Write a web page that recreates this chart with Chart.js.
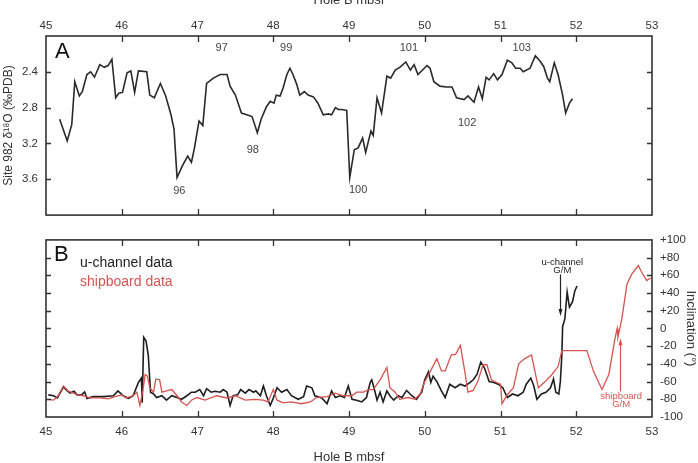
<!doctype html>
<html>
  <head>
    <meta charset="utf-8">
    <title>Site 982 isotope stratigraphy and inclination</title>
    <style>
      html, body {
        margin: 0;
        background: #fff;
      }
      #wrap { position: relative; width: 698px; height: 463px; }
      #wrap canvas { position: absolute; left: 0; }
      #chartA { top: 0; }
      #chartB { top: 225px; }
    </style>
  </head>
  <body>
    <div id="wrap">
      <canvas id="chartA" width="698" height="230"></canvas>
      <canvas id="chartB" width="698" height="238"></canvas>
    </div>

    <script src="https://cdn.jsdelivr.net/npm/chart.js@4/dist/chart.umd.min.js"></script>
    <script>
      // panel A: d18O vs depth
      var isoDepth = [45.18, 45.28, 45.34, 45.38, 45.44, 45.48, 45.54, 45.59, 45.64, 45.71, 45.77, 45.82, 45.87, 45.92, 45.96,
        46.01, 46.07, 46.12, 46.17, 46.22, 46.33, 46.37, 46.43, 46.51, 46.58, 46.65, 46.69, 46.73, 46.80, 46.87, 46.92, 46.96,
        47.02, 47.07, 47.12, 47.21, 47.30, 47.39, 47.43, 47.50, 47.58, 47.65, 47.72, 47.79, 47.84, 47.91, 47.96,
        48.01, 48.04, 48.09, 48.13, 48.18, 48.22, 48.26, 48.31, 48.35, 48.41, 48.46, 48.53, 48.59, 48.66, 48.73, 48.77, 48.82, 48.86, 48.90, 48.97,
        49.01, 49.07, 49.12, 49.18, 49.22, 49.29, 49.32, 49.37, 49.43, 49.50, 49.55, 49.61, 49.67, 49.75, 49.81, 49.86, 49.91,
        50.03, 50.07, 50.12, 50.20, 50.29, 50.36, 50.42, 50.52, 50.57, 50.65, 50.71, 50.76, 50.81, 50.85, 50.91, 50.96,
        51.02, 51.09, 51.15, 51.20, 51.26, 51.30, 51.39, 51.46, 51.52, 51.57, 51.62, 51.65, 51.71, 51.76, 51.82, 51.86, 51.91, 51.95]
      var isoValue = [2.93, 3.17, 2.99, 2.51, 2.67, 2.62, 2.43, 2.40, 2.46, 2.32, 2.35, 2.33, 2.26, 2.69, 2.64,
        2.63, 2.41, 2.39, 2.63, 2.39, 2.40, 2.66, 2.69, 2.53, 2.67, 2.88, 3.04, 3.58, 3.45, 3.34, 3.41, 3.25,
        2.95, 3.00, 2.53, 2.47, 2.43, 2.43, 2.56, 2.66, 2.86, 2.88, 2.90, 3.08, 2.93, 2.79, 2.73,
        2.75, 2.66, 2.67, 2.58, 2.43, 2.36, 2.43, 2.54, 2.66, 2.62, 2.66, 2.68, 2.75, 2.88, 2.87, 2.88, 2.80, 2.82, 2.82, 2.83,
        3.58, 3.27, 3.25, 3.14, 3.30, 3.06, 3.11, 2.69, 2.86, 2.45, 2.47, 2.38, 2.35, 2.29, 2.38, 2.32, 2.43,
        2.33, 2.36, 2.51, 2.56, 2.57, 2.57, 2.69, 2.71, 2.67, 2.74, 2.57, 2.70, 2.46, 2.49, 2.42, 2.49,
        2.43, 2.27, 2.30, 2.36, 2.36, 2.40, 2.36, 2.22, 2.28, 2.34, 2.47, 2.51, 2.30, 2.43, 2.66, 2.86, 2.75, 2.70]
      var isoTicks = [2.4, 2.8, 3.2, 3.6]

      // isotope stage labels
      var stageNames = ['96', '97', '98', '99', '100', '101', '102', '103']
      var stageDepth = [46.76, 47.32, 47.73, 48.17, 49.12, 49.79, 50.56, 51.28]
      var stageValue = [3.73, 2.13, 3.27, 2.13, 3.72, 2.13, 2.97, 2.13]

      // panel B: inclination vs depth
      var uDepth = [45.03, 45.10, 45.15, 45.23, 45.28, 45.32, 45.37, 45.41, 45.47, 45.51, 45.54, 45.62, 45.76, 45.89, 45.95,
        46.02, 46.09, 46.15, 46.22, 46.26, 46.27, 46.29, 46.32, 46.35, 46.38, 46.42, 46.46, 46.53, 46.59, 46.66, 46.73, 46.79, 46.86, 46.92, 46.97,
        47.03, 47.08, 47.12, 47.18, 47.23, 47.30, 47.34, 47.39, 47.43, 47.47, 47.53, 47.57, 47.63, 47.68, 47.74, 47.77, 47.83, 47.87, 47.91, 47.96, 47.99,
        48.05, 48.11, 48.18, 48.24, 48.33, 48.40, 48.44, 48.51, 48.55, 48.64, 48.71, 48.77, 48.82, 48.88, 48.94, 48.99,
        49.04, 49.10, 49.17, 49.23, 49.28, 49.30, 49.33, 49.37, 49.41, 49.45, 49.50, 49.54, 49.59, 49.65, 49.70, 49.76, 49.83, 49.89, 49.96,
        50.00, 50.05, 50.08, 50.11, 50.16, 50.22, 50.27, 50.33, 50.40, 50.47, 50.53, 50.60, 50.64, 50.69, 50.74, 50.79, 50.85, 50.91, 50.97,
        51.03, 51.09, 51.16, 51.23, 51.30, 51.34, 51.40, 51.44, 51.48, 51.54, 51.60, 51.66, 51.70, 51.73, 51.77, 51.79, 51.81, 51.82,
        51.85, 51.88, 51.91, 51.95, 51.98, 52.01]
      var uInc = [-75, -76, -78.5, -66, -70.5, -73, -71, -75, -75, -71.6, -79, -77, -77, -76, -70.5,
        -76, -79, -76, -61, -56, -84, -10, -14, -30, -72, -74, -78, -76, -81, -76, -78, -80, -76, -72, -72,
        -69, -76, -68, -72, -71, -72, -69, -72, -87, -76, -75, -69, -73, -69, -72, -70.5, -76, -65, -76, -87, -81,
        -67, -72, -69, -76, -80, -77, -65, -67, -76, -78.5, -85, -70.5, -78, -76, -78, -65,
        -80, -81, -83, -78, -61, -58, -67, -81, -72, -83, -70.5, -76, -81, -76, -78, -70, -76, -80, -72,
        -58, -49, -61, -54, -60, -70.5, -78, -63, -67, -63, -65, -61, -58, -52, -38, -45, -60, -61, -63,
        -67, -78, -74, -76, -72, -63, -56, -65, -80, -74, -72, -67, -57, -72, -74, -60, -30, 2,
        11, 41, 24, 30, 42, 48]

      var shipDepth = [45.03, 45.10, 45.16, 45.23, 45.29, 45.36, 45.43, 45.49, 45.58, 45.71, 45.82, 45.91,
        46.00, 46.06, 46.15, 46.20, 46.24, 46.28, 46.31, 46.34, 46.37, 46.42, 46.45, 46.50, 46.53, 46.59, 46.66, 46.73, 46.79, 46.86, 46.92, 46.99,
        47.10, 47.25, 47.39, 47.50, 47.63, 47.76, 47.87, 47.93, 48.00, 48.05, 48.13, 48.24, 48.37, 48.49, 48.57, 48.71, 48.82, 48.93,
        49.04, 49.10, 49.19, 49.26, 49.32, 49.41, 49.50, 49.54, 49.61, 49.67, 49.78, 49.87, 49.94,
        50.00, 50.07, 50.16, 50.22, 50.27, 50.35, 50.41, 50.47, 50.53, 50.57, 50.64, 50.70, 50.77, 50.82, 50.88, 50.95, 51.00,
        51.02, 51.08, 51.17, 51.24, 51.32, 51.41, 51.50, 51.59, 51.68, 51.76, 51.81, 52.14, 52.23, 52.34, 52.43,
        52.51, 52.54, 52.55, 52.60, 52.67, 52.73, 52.82, 52.86, 52.93, 52.98]
      var shipInc = [-80, -81, -76, -65, -70.5, -73, -75, -76, -78.5, -78.5, -79.6, -77,
        -75, -78.5, -76, -72, -87, -69, -52, -54, -67, -72, -57, -58, -72, -70.5, -69, -76, -83, -87, -81, -78,
        -81, -76, -78.5, -76, -81, -80, -81, -83, -69, -81, -84, -83, -85, -83, -78, -77, -73, -76,
        -76, -72, -72, -69, -69, -58, -44, -67, -72, -80, -78, -80, -74,
        -60, -49, -34, -48, -48, -30, -29, -19, -49, -72, -70, -60, -41, -41, -58, -61, -63,
        -85, -76, -67, -40, -34, -30, -67, -60, -52, -43, -25, -25, -49, -69, -52,
        -12, 0, -10, 10, 50, 61, 71, 64, 54, 57]
      var incTicks = [-80, -60, -40, -20, 0, 20, 40, 60, 80]
      var depthTicks = [46, 47, 48, 49, 50, 51, 52]

      // G/M boundary markers (depth, text top, arrow from, arrow to)
      var gmU = { depth: 51.79, text: 75, from: 61, to: 14 }
      var gmShip = { depth: 52.58, text: -77, from: -71, to: -11 }

      var RED = '#d65350'
      var INK = '#333'
      Chart.defaults.font.family = '"Liberation Sans", Arial, Helvetica, sans-serif'
      Chart.defaults.font.size = 11.5
      Chart.defaults.color = INK

      var toPoints = function(xs, ys) {
        return xs.map(function(x, i) { return { x: x, y: ys[i] } })
      }

      // frame plus inward tick marks on all four sides
      var frameTicks = {
        id: 'frameTicks',
        afterDatasetsDraw: function(chart, args, opts) {
          var ctx = chart.ctx
          var a = chart.chartArea
          var xs = chart.scales.x
          var ys = chart.scales.y
          ctx.save()
          ctx.strokeStyle = INK
          ctx.lineWidth = 1.6
          ctx.strokeRect(a.left, a.top, a.right - a.left, a.bottom - a.top)
          ctx.lineWidth = 1.3
          ctx.beginPath()
          depthTicks.forEach(function(v) {
            var px = Math.round(xs.getPixelForValue(v)) + 0.5
            ctx.moveTo(px, a.top); ctx.lineTo(px, a.top + 6)
            ctx.moveTo(px, a.bottom); ctx.lineTo(px, a.bottom - 6)
          })
          opts.yTicks.forEach(function(v) {
            var py = Math.round(ys.getPixelForValue(v)) + 0.5
            ctx.moveTo(a.left, py); ctx.lineTo(a.left + 5, py)
            ctx.moveTo(a.right, py); ctx.lineTo(a.right - 5, py)
          })
          ctx.stroke()
          ctx.restore()
        }
      }

      var textFont = function(size) {
        return size + 'px "Liberation Sans", Arial, Helvetica, sans-serif'
      }

      var panelAText = {
        id: 'panelAText',
        afterDatasetsDraw: function(chart) {
          var ctx = chart.ctx
          var a = chart.chartArea
          var xs = chart.scales.x
          var ys = chart.scales.y
          ctx.save()
          ctx.fillStyle = '#111'
          ctx.font = textFont(22)
          ctx.textAlign = 'left'
          ctx.textBaseline = 'middle'
          ctx.fillText('A', a.left + 9, a.top + 16)
          ctx.fillStyle = '#444'
          ctx.font = textFont(11)
          ctx.textAlign = 'center'
          stageNames.forEach(function(n, i) {
            ctx.fillText(n, xs.getPixelForValue(stageDepth[i]), ys.getPixelForValue(stageValue[i]))
          })
          ctx.restore()
        }
      }

      var arrow = function(ctx, x, y1, y2) {
        var dir = y2 > y1 ? 1 : -1
        ctx.beginPath()
        ctx.moveTo(x, y1)
        ctx.lineTo(x, y2 - dir * 5)
        ctx.stroke()
        ctx.beginPath()
        ctx.moveTo(x, y2)
        ctx.lineTo(x - 2, y2 - dir * 7)
        ctx.lineTo(x + 2, y2 - dir * 7)
        ctx.closePath()
        ctx.fill()
      }

      var panelBText = {
        id: 'panelBText',
        afterDatasetsDraw: function(chart) {
          var ctx = chart.ctx
          var a = chart.chartArea
          var xs = chart.scales.x
          var ys = chart.scales.y
          ctx.save()
          ctx.fillStyle = '#111'
          ctx.font = textFont(22)
          ctx.textAlign = 'left'
          ctx.textBaseline = 'middle'
          ctx.fillText('B', a.left + 8, a.top + 15)
          ctx.font = textFont(14)
          ctx.fillStyle = '#222'
          ctx.fillText('u-channel data', a.left + 34, a.top + 23)
          ctx.fillStyle = RED
          ctx.fillText('shipboard data', a.left + 34, a.top + 42)

          // u-channel G/M
          var ux = xs.getPixelForValue(gmU.depth)
          ctx.font = textFont(9.5)
          ctx.textAlign = 'center'
          ctx.fillStyle = '#222'
          ctx.strokeStyle = '#222'
          ctx.lineWidth = 1.2
          var ty = ys.getPixelForValue(gmU.text)
          ctx.fillText('u-channel', ux + 2, ty)
          ctx.fillText('G/M', ux + 2, ty + 8)
          arrow(ctx, Math.round(ux) + 0.5, ys.getPixelForValue(gmU.from), ys.getPixelForValue(gmU.to))

          // shipboard G/M
          var sx = xs.getPixelForValue(gmShip.depth)
          ctx.fillStyle = RED
          ctx.strokeStyle = RED
          var sy = ys.getPixelForValue(gmShip.text)
          ctx.fillText('shipboard', sx + 1, sy)
          ctx.fillText('G/M', sx + 1, sy + 8)
          arrow(ctx, Math.round(sx) + 0.5, ys.getPixelForValue(gmShip.from), ys.getPixelForValue(gmShip.to))
          ctx.restore()
        }
      }

      var noGrid = { display: false, drawTicks: false }
      var noBorder = { display: false }

      new Chart(document.getElementById('chartA').getContext('2d'), {
        type: 'line',
        data: {
          datasets: [{
            data: toPoints(isoDepth, isoValue),
            borderColor: '#2a2a2a',
            borderWidth: 1.6,
            pointRadius: 0,
            tension: 0
          }]
        },
        options: {
          responsive: false,
          animation: false,
          events: [],
          layout: { padding: { left: 0, right: 46, top: 0, bottom: 14 } },
          plugins: {
            legend: { display: false },
            tooltip: { enabled: false },
            frameTicks: { yTicks: isoTicks }
          },
          scales: {
            x: {
              type: 'linear',
              position: 'top',
              min: 45,
              max: 53,
              grid: noGrid,
              border: noBorder,
              ticks: { stepSize: 1, padding: 3 },
              title: {
                display: true,
                text: 'Hole B mbsf',
                font: { size: 13 },
                padding: { top: -7, bottom: 0 }
              },
              afterFit: function(s) { s.height = 36 }
            },
            y: {
              type: 'linear',
              reverse: true,
              min: 2.0,
              max: 4.0,
              grid: noGrid,
              border: noBorder,
              ticks: { padding: 8 },
              afterBuildTicks: function(s) {
                s.ticks = isoTicks.map(function(v) { return { value: v } })
              },
              title: {
                display: true,
                text: 'Site 982 δ¹⁸O (‰PDB)',
                font: { size: 12 },
                padding: { top: 1, bottom: 0 }
              },
              afterFit: function(s) { s.width = 46 }
            }
          }
        },
        plugins: [frameTicks, panelAText]
      })

      new Chart(document.getElementById('chartB').getContext('2d'), {
        type: 'line',
        data: {
          datasets: [{
            label: 'shipboard data',
            data: toPoints(shipDepth, shipInc),
            borderColor: RED,
            borderWidth: 1.3,
            pointRadius: 0,
            tension: 0
          }, {
            label: 'u-channel data',
            data: toPoints(uDepth, uInc),
            borderColor: '#1e1e1e',
            borderWidth: 1.6,
            pointRadius: 0,
            tension: 0
          }]
        },
        options: {
          responsive: false,
          animation: false,
          events: [],
          layout: { padding: { left: 0, right: 0, top: 9, bottom: 0 } },
          plugins: {
            legend: { display: false },
            tooltip: { enabled: false },
            frameTicks: { yTicks: incTicks }
          },
          scales: {
            x: {
              type: 'linear',
              position: 'bottom',
              min: 45,
              max: 53,
              grid: noGrid,
              border: noBorder,
              ticks: { stepSize: 1, padding: 8 },
              title: {
                display: true,
                text: 'Hole B mbsf',
                font: { size: 13 },
                padding: { top: 0, bottom: -2 }
              },
              afterFit: function(s) { s.height = 46 }
            },
            y: {
              type: 'linear',
              position: 'left',
              min: -100,
              max: 100,
              grid: noGrid,
              border: noBorder,
              ticks: { display: false },
              afterFit: function(s) { s.width = 46 }
            },
            y2: {
              type: 'linear',
              position: 'right',
              min: -100,
              max: 100,
              grid: noGrid,
              border: noBorder,
              ticks: {
                stepSize: 20,
                padding: 8,
                callback: function(v) { return v > 0 ? '+' + v : '' + v }
              },
              title: {
                display: true,
                text: 'Inclination (°)',
                font: { size: 13 },
                padding: { top: -0.5, bottom: 0 }
              },
              afterFit: function(s) { s.width = 46 }
            }
          }
        },
        plugins: [frameTicks, panelBText]
      })
    </script>
  </body>
</html>
